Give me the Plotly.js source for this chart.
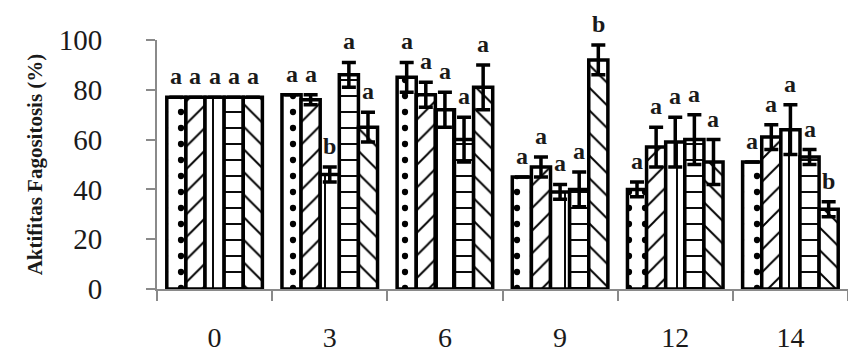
<!DOCTYPE html>
<html>
<head>
<meta charset="utf-8">
<script src="https://cdn.plot.ly/plotly-3.0.1.min.js"></script>
<style>html,body{margin:0;padding:0;background:#fff}#chart{width:848px;height:360px}</style>
</head>
<body>
<div id="chart"></div>
<script>
// Categories (days)
const days = ["0", "3", "6", "9", "12", "14"];
// Five treatment series (values, %)
const s1 = [77, 78, 85, 45, 40, 51];
const s2 = [77, 76, 78, 49, 57, 61];
const s3 = [77, 46, 72, 39, 59, 64];
const s4 = [77, 86, 60, 40, 60, 53];
const s5 = [77, 65, 81, 92, 51, 32];
// Error values
const e1 = [0, 0, 6, 0, 3, 0];
const e2 = [0, 2, 5, 4, 8, 5];
const e3 = [0, 3, 7, 3, 10, 10];
const e4 = [0, 5, 9, 7, 10, 3];
const e5 = [0, 6, 9, 6, 9, 3];
// Significance letters
const l1 = ["a", "a", "a", "a", "a", "a"];
const l2 = ["a", "a", "a", "a", "a", "a"];
const l3 = ["a", "b", "a", "a", "a", "a"];
const l4 = ["a", "a", "a", "a", "a", "a"];
const l5 = ["a", "a", "a", "b", "a", "b"];

const series = [s1, s2, s3, s4, s5];
const errs = [e1, e2, e3, e4, e5];
const letters = [l1, l2, l3, l4, l5];
const patterns = [".", "/", "|", "-", "\\"];

const bargap = 0.17;
const barW = (1 - bargap) / 5;

const traces = series.map((vals, i) => ({
  type: "bar",
  x: days,
  y: vals,
  marker: {
    color: "#ffffff",
    line: {color: "#000000", width: 3.5},
    pattern: {shape: patterns[i], fgcolor: "#000000", bgcolor: "#ffffff", size: 16, solidity: 0.12}
  },
  error_y: {type: "data", array: errs[i], visible: true, color: "#000000", thickness: 3.5, width: 7},
  showlegend: false,
  hoverinfo: "skip"
}));

const annotations = [];
series.forEach((vals, i) => {
  vals.forEach((v, j) => {
    annotations.push({
      x: j + (i - 2) * barW,
      y: v + errs[i][j],
      xref: "x", yref: "y",
      text: letters[i][j],
      showarrow: false,
      yanchor: "bottom",
      yshift: 6,
      font: {family: "Liberation Serif", size: 24, color: "#1a1a1a", weight: "bold"}
    });
  });
});

const layout = {
  width: 848, height: 360,
  margin: {l: 157, r: 0, t: 40, b: 71},
  paper_bgcolor: "#ffffff",
  plot_bgcolor: "#ffffff",
  barmode: "group",
  bargap: bargap,
  bargroupgap: 0,
  xaxis: {
    type: "category",
    range: [-0.5, 5.5],
    showline: true, linecolor: "#8a8a8a", linewidth: 2,
    showgrid: false, zeroline: false,
    ticks: "outside", ticklen: 10, tickwidth: 2, tickcolor: "#8a8a8a",
    tickson: "boundaries",
    tickfont: {family: "Liberation Serif", size: 28, color: "#1a1a1a"},
    ticklabelstandoff: 22
  },
  yaxis: {
    range: [0, 100],
    tickvals: [0, 20, 40, 60, 80, 100],
    showline: true, linecolor: "#8a8a8a", linewidth: 2,
    showgrid: false, zeroline: false,
    ticks: "outside", ticklen: 9, tickwidth: 2, tickcolor: "#8a8a8a",
    ticklabelstandoff: 38,
    tickfont: {family: "Liberation Serif", size: 29, color: "#1a1a1a"},
    title: {text: "Aktifitas Fagositosis (%)", font: {family: "Liberation Serif", size: 21, color: "#1a1a1a", weight: "bold"}, standoff: 10}
  },
  annotations: annotations
};

Plotly.newPlot("chart", traces, layout, {staticPlot: true, displayModeBar: false});
</script>
</body>
</html>
